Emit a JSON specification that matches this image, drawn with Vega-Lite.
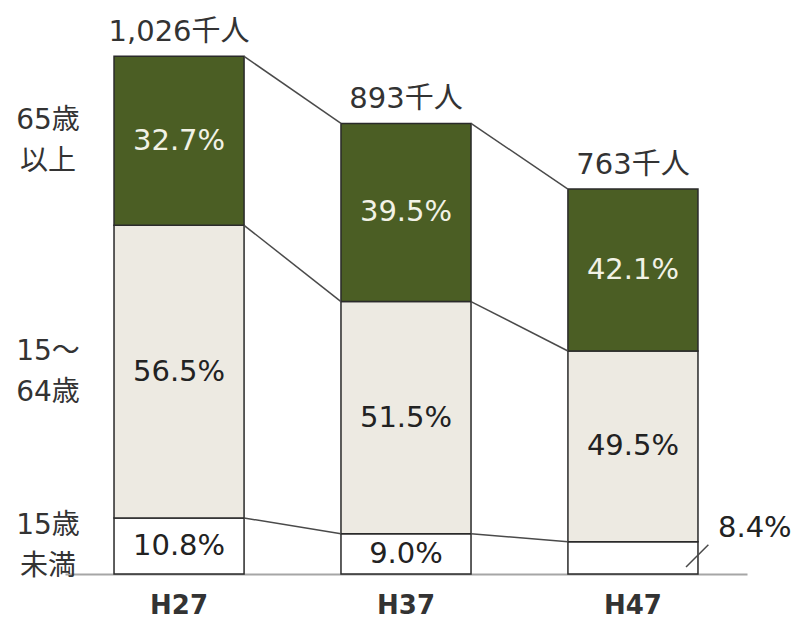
{
  "$schema": "https://vega.github.io/schema/vega-lite/v6.json",
  "autosize": {"type": "none"},
  "padding": {"left": 65, "top": 19, "right": 49, "bottom": 51},
  "width": 682,
  "height": 555,
  "background": "white",
  "config": {"view": {"stroke": null}, "font": "DejaVu Sans, Noto Sans CJK JP"},
  "data": {"values": [
    {"year": "H27", "group": "15歳未満", "label": "15歳\n未満", "order": 1, "value": 111, "pct": "10.8%"},
    {"year": "H27", "group": "15～64歳", "label": "15～\n64歳", "order": 2, "value": 580, "pct": "56.5%"},
    {"year": "H27", "group": "65歳以上", "label": "65歳\n以上", "order": 3, "value": 335, "pct": "32.7%"},
    {"year": "H37", "group": "15歳未満", "label": "15歳\n未満", "order": 1, "value": 80, "pct": "9.0%"},
    {"year": "H37", "group": "15～64歳", "label": "15～\n64歳", "order": 2, "value": 460, "pct": "51.5%"},
    {"year": "H37", "group": "65歳以上", "label": "65歳\n以上", "order": 3, "value": 353, "pct": "39.5%"},
    {"year": "H47", "group": "15歳未満", "label": "15歳\n未満", "order": 1, "value": 64, "pct": "8.4%"},
    {"year": "H47", "group": "15～64歳", "label": "15～\n64歳", "order": 2, "value": 378, "pct": "49.5%"},
    {"year": "H47", "group": "65歳以上", "label": "65歳\n以上", "order": 3, "value": 321, "pct": "42.1%"}
  ]},
  "resolve": {"scale": {"color": "independent"}},
  "layer": [
    {
      "mark": {"type": "bar", "stroke": "#2a2a2a", "strokeWidth": 1.5},
      "encoding": {
        "x": {"field": "year", "type": "nominal", "sort": ["H27", "H37", "H47"],
          "scale": {"domain": ["H27", "H37", "H47"], "paddingInner": 0.427, "paddingOuter": 0.216},
          "axis": {"title": null, "labelAngle": 0, "ticks": false, "domainColor": "#a6a6a6", "domainWidth": 2,
            "labelFontSize": 26, "labelFontWeight": "bold", "labelColor": "#333333", "labelPadding": 18,
            "labelFont": "DejaVu Sans"}},
        "y": {"field": "value", "type": "quantitative", "stack": "zero",
          "scale": {"domain": [0, 1100], "nice": false}, "axis": null},
        "order": {"field": "order", "type": "quantitative"},
        "color": {"field": "group", "type": "nominal", "legend": null,
          "scale": {"domain": ["15歳未満", "15～64歳", "65歳以上"], "range": ["#ffffff", "#edeae2", "#4b5e24"]}}
      }
    },
    {
      "transform": [
        {"stack": "value", "groupby": ["year"], "sort": [{"field": "order"}], "as": ["lo", "hi"]},
        {"window": [{"op": "lead", "field": "hi", "as": "nextHi"}, {"op": "lead", "field": "year", "as": "nextYear"}],
          "groupby": ["group"], "sort": [{"field": "year"}]},
        {"filter": "datum.nextYear != null"}
      ],
      "mark": {"type": "rule", "color": "#4a4a4a", "strokeWidth": 1.5},
      "encoding": {
        "x": {"field": "year", "type": "nominal", "bandPosition": 1},
        "x2": {"field": "nextYear", "bandPosition": 0},
        "y": {"field": "hi", "type": "quantitative"},
        "y2": {"field": "nextHi"}
      }
    },
    {
      "transform": [
        {"stack": "value", "groupby": ["year"], "sort": [{"field": "order"}], "as": ["lo", "hi"]},
        {"filter": "!(datum.year === 'H47' && datum.group === '15歳未満')"},
        {"fold": ["lo", "hi"], "as": ["k", "edge"]}
      ],
      "mark": {"type": "text", "fontSize": 29, "baseline": "middle", "align": "center"},
      "encoding": {
        "x": {"field": "year", "type": "nominal"},
        "y": {"field": "edge", "type": "quantitative", "aggregate": "mean", "stack": null},
        "detail": {"field": "group"},
        "text": {"field": "pct"},
        "color": {"condition": {"test": "datum.group === '65歳以上'", "value": "#f2f2e6"}, "value": "#222222"}
      }
    },
    {
      "transform": [
        {"stack": "value", "groupby": ["year"], "sort": [{"field": "order"}], "as": ["lo", "hi"]},
        {"filter": "datum.year === 'H47' && datum.group === '15歳未満'"}
      ],
      "layer": [
        {
          "mark": {"type": "text", "fontSize": 29, "baseline": "middle", "align": "left", "dx": 20, "dy": -14, "color": "#222222"},
          "encoding": {
            "x": {"field": "year", "type": "nominal", "bandPosition": 1},
            "y": {"field": "hi", "type": "quantitative"},
            "text": {"field": "pct"}
          }
        },
        {
          "mark": {"type": "rule", "color": "#4a4a4a", "strokeWidth": 1.5, "yOffset": -7, "y2Offset": 3},
          "encoding": {
            "x": {"field": "year", "type": "nominal", "bandPosition": 0.908},
            "x2": {"field": "year", "bandPosition": 1.08},
            "y": {"field": "lo", "type": "quantitative"},
            "y2": {"field": "hi"}
          }
        }
      ]
    },
    {
      "transform": [
        {"filter": "datum.year === 'H27'"},
        {"stack": "value", "groupby": ["year"], "sort": [{"field": "order"}], "as": ["lo", "hi"]},
        {"fold": ["lo", "hi"], "as": ["k", "edge"]}
      ],
      "mark": {"type": "text", "fontSize": 28, "baseline": "middle", "align": "center", "dx": -66, "dy": -20, "lineBreak": "\n", "lineHeight": 41, "color": "#333333"},
      "encoding": {
        "x": {"field": "year", "type": "nominal", "bandPosition": 0},
        "y": {"field": "edge", "type": "quantitative", "aggregate": "mean", "stack": null},
        "detail": {"field": "group"},
        "text": {"field": "label"}
      }
    },
    {
      "data": {"values": [
        {"year": "H27", "total": 1026, "label": "1,026千人"},
        {"year": "H37", "total": 893, "label": "893千人"},
        {"year": "H47", "total": 763, "label": "763千人"}
      ]},
      "mark": {"type": "text", "fontSize": 29, "baseline": "alphabetic", "align": "center", "dy": -15, "color": "#333333"},
      "encoding": {
        "x": {"field": "year", "type": "nominal"},
        "y": {"field": "total", "type": "quantitative"},
        "text": {"field": "label"}
      }
    }
  ]
}
